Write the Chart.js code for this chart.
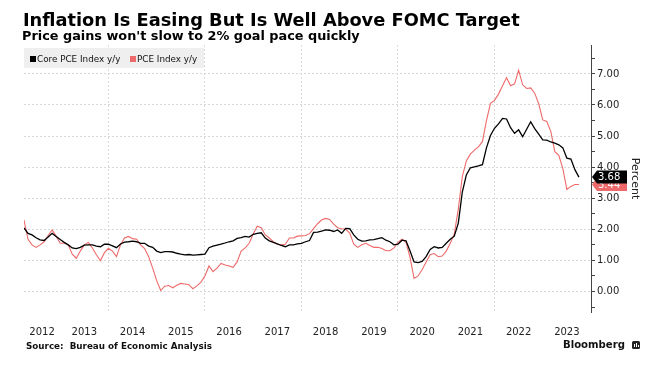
<!DOCTYPE html>
<html>
<head>
<meta charset="utf-8">
<script src="https://cdn.jsdelivr.net/npm/chart.js@4.4.0/dist/chart.umd.min.js"></script>
<style>
  html, body { margin: 0; padding: 0; background: #fff; }
  #wrap { position: relative; width: 663px; height: 374px; overflow: hidden; font-family: 'DejaVu Sans', sans-serif; color: #000; }
  #chart { position: absolute; left: 0; top: 0; }
  .txt { position: absolute; white-space: nowrap; line-height: 1; }
  #title { left: 23px; font-weight: bold; font-size: 18px; }
  #subtitle { left: 22px; font-weight: bold; font-size: 13px; }
  #legend { position: absolute; left: 24px; top: 48px; width: 180px; height: 20px; background: #efefef; }
  .sw { position: absolute; top: 8px; width: 6px; height: 6px; }
  .lg { position: absolute; top: 7px; font-size: 8.8px; line-height: 1; color: #111; white-space: nowrap; }
  #source { left: 26px; font-weight: bold; font-size: 9px; color: #111; }
  #brand { left: 563px; font-weight: bold; font-size: 11.5px; color: #111; }
  #logo { position: absolute; left: 632px; top: 341px; width: 8px; height: 8px; background: #222; border-radius: 1.5px; }
  #logo i { position: absolute; bottom: 2px; width: 1px; background: #fff; }
</style>
</head>
<body>
<div id="wrap">
  <canvas id="chart" width="663" height="374"></canvas>
  <div class="txt" id="title">Inflation Is Easing But Is Well Above FOMC Target</div>
  <div class="txt" id="subtitle">Price gains won't slow to 2% goal pace quickly</div>
  <div id="legend">
    <div class="sw" style="left:6px;background:#000"></div>
    <div class="lg" style="left:13px">Core PCE Index y/y</div>
    <div class="sw" style="left:106px;background:#ee6a6a"></div>
    <div class="lg" style="left:113px">PCE Index y/y</div>
  </div>
  <div class="txt" id="source">Source:&nbsp; Bureau of Economic Analysis</div>
  <div class="txt" id="brand">Bloomberg</div>
  <div id="logo"><i style="left:2px;height:3px"></i><i style="left:4px;height:4px"></i><i style="left:6px;height:2px"></i></div>
</div>
<script>
// monthly series, Mar 2012 .. Sep 2023 (year-over-year %)
const startYear = 2012;
const startMonth = 3;

const corePce = [
  2.05, 1.87, 1.82, 1.73, 1.66, 1.64, 1.75, 1.87, 1.77, 1.67,
  1.58, 1.50, 1.40, 1.38, 1.42, 1.49, 1.50, 1.50, 1.46, 1.44, 1.52, 1.52,
  1.47, 1.41, 1.53, 1.59, 1.60, 1.62, 1.60, 1.55, 1.55, 1.46, 1.42, 1.30,
  1.25, 1.28, 1.28, 1.27, 1.23, 1.20, 1.18, 1.19, 1.17, 1.18, 1.19, 1.20,
  1.41, 1.46, 1.49, 1.52, 1.56, 1.60, 1.63, 1.71, 1.73, 1.77, 1.75, 1.84,
  1.87, 1.89, 1.72, 1.63, 1.58, 1.53, 1.48, 1.44, 1.50, 1.50, 1.53, 1.55,
  1.60, 1.64, 1.90, 1.91, 1.94, 1.98, 1.97, 1.93, 1.98, 1.87, 2.03, 2.02,
  1.82, 1.68, 1.62, 1.63, 1.66, 1.67, 1.70, 1.73, 1.65, 1.60, 1.50, 1.52,
  1.65, 1.63, 1.30, 0.95, 0.93, 0.97, 1.12, 1.35, 1.44, 1.40, 1.42, 1.55,
  1.68, 1.78, 2.20, 3.20, 3.75, 3.98, 4.01, 4.04, 4.08, 4.62, 5.02, 5.25,
  5.39, 5.57, 5.55, 5.27, 5.09, 5.20, 4.98, 5.22, 5.46, 5.24, 5.06, 4.88,
  4.87, 4.81, 4.77, 4.72, 4.62, 4.29, 4.26, 3.92, 3.68
];

const pce = [
  2.30, 1.68, 1.50, 1.42, 1.50, 1.60, 1.80, 1.98, 1.78, 1.55,
  1.55, 1.50, 1.20, 1.07, 1.30, 1.50, 1.58, 1.40, 1.18, 0.99, 1.25, 1.39,
  1.30, 1.12, 1.50, 1.72, 1.77, 1.70, 1.68, 1.50, 1.38, 1.12, 0.75, 0.35,
  0.03, 0.17, 0.19, 0.12, 0.20, 0.26, 0.24, 0.22, 0.09, 0.18, 0.30, 0.50,
  0.82, 0.64, 0.75, 0.90, 0.85, 0.82, 0.78, 0.95, 1.30, 1.40, 1.55, 1.85,
  2.10, 2.05, 1.82, 1.72, 1.60, 1.52, 1.50, 1.52, 1.72, 1.72, 1.78, 1.79,
  1.80, 1.86, 2.02, 2.18, 2.30, 2.35, 2.32, 2.17, 2.05, 2.02, 2.00, 1.88,
  1.52, 1.42, 1.50, 1.55, 1.48, 1.42, 1.42, 1.38, 1.31, 1.31, 1.40, 1.58,
  1.68, 1.58, 1.10, 0.42, 0.50, 0.70, 0.95, 1.18, 1.22, 1.12, 1.14, 1.30,
  1.55, 1.85, 2.65, 3.70, 4.20, 4.42, 4.55, 4.65, 4.82, 5.50, 6.05, 6.15,
  6.35, 6.62, 6.88, 6.62, 6.68, 7.12, 6.65, 6.53, 6.55, 6.38, 6.04, 5.52,
  5.47, 5.15, 4.50, 4.38, 3.95, 3.28, 3.38, 3.44, 3.44
];

const yearLabels = [2012, 2013, 2014, 2015, 2016, 2017, 2018, 2019, 2020, 2021, 2022, 2023];
const gridYears = [2014, 2016, 2018, 2020, 2022];
const yTicks = [-0.5, 0, 0.5, 1, 1.5, 2, 2.5, 3, 3.5, 4, 4.5, 5, 5.5, 6, 6.5, 7, 7.5];

const RED = '#ee6a6a';

// month-end positions on a year axis
function toPoints(values) {
  return values.map((v, i) => ({ x: startYear + (startMonth + i) / 12, y: v }));
}

const xMin = startYear + startMonth / 12;
const xMax = 2024;

// year labels sit in the middle of the visible part of each year
const xLabelTicks = yearLabels.map(yr => (Math.max(yr, xMin) + Math.min(yr + 1, xMax)) / 2);
const xTicks = xLabelTicks.concat(gridYears).sort((a, b) => a - b);

// dotted grid lines, solid axis line
const gridDash = c => c.type === 'tick' ? [2, 2] : [];

const endLabels = {
  id: 'endLabels',
  afterDraw(chart) {
    const { ctx, chartArea } = chart;
    const yScale = chart.scales.y;
    const x0 = chartArea.right + 1;
    [1, 0].forEach(i => {
      const ds = chart.data.datasets[i];
      const v = ds.data[ds.data.length - 1].y;
      const py = yScale.getPixelForValue(v);
      ctx.save();
      ctx.fillStyle = ds.borderColor;
      ctx.beginPath();
      ctx.moveTo(x0, py);
      ctx.lineTo(x0 + 5, py - 6.5);
      ctx.lineTo(x0 + 35, py - 6.5);
      ctx.lineTo(x0 + 35, py + 6.5);
      ctx.lineTo(x0 + 5, py + 6.5);
      ctx.closePath();
      ctx.fill();
      ctx.fillStyle = '#fff';
      ctx.font = '10px "DejaVu Sans"';
      ctx.textBaseline = 'middle';
      ctx.fillText(v.toFixed(2), x0 + 6, py + 0.5);
      ctx.restore();
    });
  }
};

Chart.defaults.font.family = "'DejaVu Sans', sans-serif";

new Chart(document.getElementById('chart').getContext('2d'), {
  type: 'line',
  data: {
    datasets: [
      {
        label: 'Core PCE Index y/y',
        data: toPoints(corePce),
        borderColor: '#000000',
        borderWidth: 1.3,
        pointRadius: 0,
        tension: 0
      },
      {
        label: 'PCE Index y/y',
        data: toPoints(pce),
        borderColor: RED,
        borderWidth: 1.1,
        pointRadius: 0,
        tension: 0
      }
    ]
  },
  options: {
    responsive: false,
    animation: false,
    events: [],
    layout: { padding: { left: 24, right: 22, top: 45, bottom: 22 } },
    plugins: {
      legend: { display: false },
      tooltip: { enabled: false }
    },
    scales: {
      x: {
        type: 'linear',
        min: xMin,
        max: xMax,
        afterBuildTicks: s => { s.ticks = xTicks.map(v => ({ value: v })); },
        afterFit: s => { s.height = 40; },
        ticks: {
          autoSkip: false,
          maxRotation: 0,
          padding: 14,
          color: '#222',
          font: { size: 10 },
          callback: v => Number.isInteger(v) ? '' : String(Math.floor(v))
        },
        grid: {
          color: ctx => gridYears.includes(ctx.tick && ctx.tick.value) ? '#dcdcdc' : 'rgba(0,0,0,0)',
          drawTicks: false
        },
        border: { display: false, dash: gridDash }
      },
      y: {
        position: 'right',
        min: -0.66,
        max: 7.93,
        afterBuildTicks: s => { s.ticks = yTicks.map(v => ({ value: v })); },
        afterFit: s => { s.width = 50; },
        ticks: {
          padding: 2,
          color: '#222',
          font: { size: 10 },
          callback: v => Number.isInteger(v) ? v.toFixed(2) : ''
        },
        grid: {
          color: ctx => Number.isInteger(ctx.tick && ctx.tick.value) ? '#d8d8d8' : 'rgba(0,0,0,0)',
          tickColor: '#444',
          tickLength: 4,
          tickWidth: 1,
          tickBorderDash: []
        },
        border: { color: '#444', width: 1, dash: gridDash },
        title: {
          display: true,
          text: 'Percent',
          color: '#222',
          font: { size: 11 },
          padding: { top: 0, bottom: 0 }
        }
      }
    }
  },
  plugins: [endLabels]
});

// fit header/footer text to the reference widths and set baselines
function place(id, width, baseline) {
  const el = document.getElementById(id);
  const fs = parseFloat(getComputedStyle(el).fontSize);
  const w = el.getBoundingClientRect().width;
  const size = fs * width / w;
  el.style.fontSize = size + 'px';
  el.style.top = (baseline - 0.846 * size) + 'px';
}
place('title', 497, 26);
place('subtitle', 338, 41);
place('source', 186, 349.3);
place('brand', 62, 349);
</script>
</body>
</html>
